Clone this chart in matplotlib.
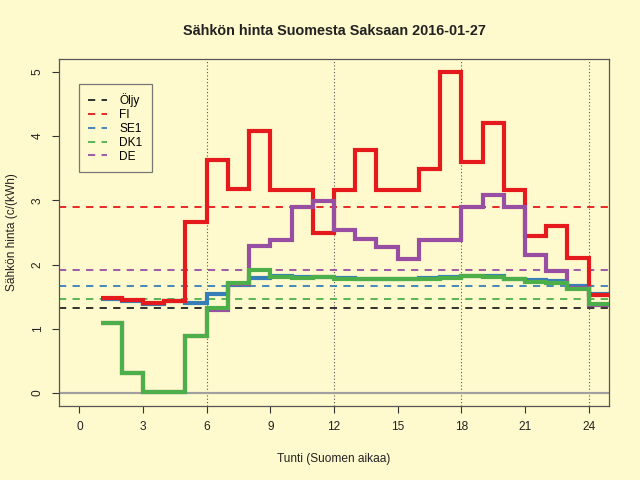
import matplotlib
matplotlib.use("Agg")
import matplotlib.pyplot as plt

# tunnit 1..25 (porrasviivan reunat)
hours = list(range(1, 26))

fi = [1.48, 1.45, 1.40, 1.43, 2.66, 3.63, 3.17, 4.08, 3.16, 3.16, 2.49, 3.16,
      3.78, 3.16, 3.16, 3.49, 5.00, 3.60, 4.21, 3.16, 2.45, 2.60, 2.10, 1.52]
se1 = [1.47, 1.44, 1.39, 1.44, 1.41, 1.55, 1.68, 1.79, 1.82, 1.80, 1.81, 1.79,
       1.78, 1.78, 1.78, 1.79, 1.80, 1.83, 1.82, 1.78, 1.76, 1.75, 1.66, 1.55]
dk1 = [1.09, 0.32, 0.01, 0.01, 0.89, 1.33, 1.71, 1.91, 1.81, 1.79, 1.80, 1.78,
       1.77, 1.77, 1.77, 1.78, 1.79, 1.82, 1.81, 1.77, 1.73, 1.72, 1.62, 1.39]
de = [1.09, 0.32, 0.01, 0.01, 0.89, 1.30, 1.70, 2.29, 2.39, 2.89, 2.99, 2.54,
      2.40, 2.28, 2.09, 2.38, 2.39, 2.89, 3.09, 2.90, 2.15, 1.90, 1.63, 1.37]

# keskiarvot / öljyn hinta (katkoviivat)
ref_names = ["Öljy", "FI", "SE1", "DK1", "DE"]
ref_values = [1.33, 2.89, 1.67, 1.47, 1.92]
ref_colors = ["#222222", "#E41A1C", "#377EB8", "#4DAF4A", "#984EA3"]

xticks = [0, 3, 6, 9, 12, 15, 18, 21, 24]
vlines = [6, 12, 18, 24]

bg = "#FFFACD"
plt.rcParams['font.family'] = ['Liberation Sans', 'DejaVu Sans']

fig = plt.figure(figsize=(6.4, 4.8), dpi=100, facecolor=bg)
ax = fig.add_axes([0.0922, 0.1542, 0.8594, 0.7229], facecolor=bg)

for v in vlines:
    ax.axvline(v, color="#555555", lw=0.8, linestyle=(0, (1, 2)), zorder=1)
ax.axhline(0, color="#A0A0A0", lw=1.6, zorder=1)

for name, val, col in zip(ref_names, ref_values, ref_colors):
    ax.axhline(val, color=col, lw=1.3, linestyle=(0, (4, 3.5)), label=name, zorder=2)

ax.stairs(se1, hours, baseline=None, color="#377EB8", lw=3, zorder=3)
ax.stairs(fi, hours, baseline=None, color="#E41A1C", lw=3, zorder=4)
ax.stairs(de, hours, baseline=None, color="#984EA3", lw=3, zorder=5)
ax.stairs(dk1, hours, baseline=None, color="#4DAF4A", lw=3, zorder=6)

ax.set_xlim(-0.96, 24.96)
ax.set_ylim(-0.2, 5.2)
ax.set_xticks(xticks)
ax.set_yticks([0, 1, 2, 3, 4, 5])
ax.tick_params(axis="both", length=5, width=0.8, color="#333333",
               labelsize=8.6, labelcolor="#222222")
ax.tick_params(axis="x", pad=6)
ax.tick_params(axis="y", pad=6)
for lab in ax.get_yticklabels():
    lab.set_rotation(90)
    lab.set_va("center")
for s in ax.spines.values():
    s.set_color("#555555")
    s.set_linewidth(0.9)

ax.set_title("Sähkön hinta Suomesta Saksaan 2016-01-27", fontsize=10.4,
             fontweight="bold", color="#222222", pad=17)
ax.set_xlabel("Tunti (Suomen aikaa)", fontsize=8.6, color="#222222", labelpad=14)
ax.set_ylabel("Sähkön hinta (c/(kWh)", fontsize=8.6, color="#222222", labelpad=10)

leg = ax.legend(loc="upper left", bbox_to_anchor=(0.036, 0.928), borderaxespad=0,
                fancybox=False, facecolor=bg, edgecolor="#777777", framealpha=1,
                fontsize=8.6, handlelength=1.6, handletextpad=1.0,
                labelspacing=0.15, borderpad=0.8)
leg.get_frame().set_linewidth(0.9)

fig.savefig("out.png", dpi=100, facecolor=bg)
